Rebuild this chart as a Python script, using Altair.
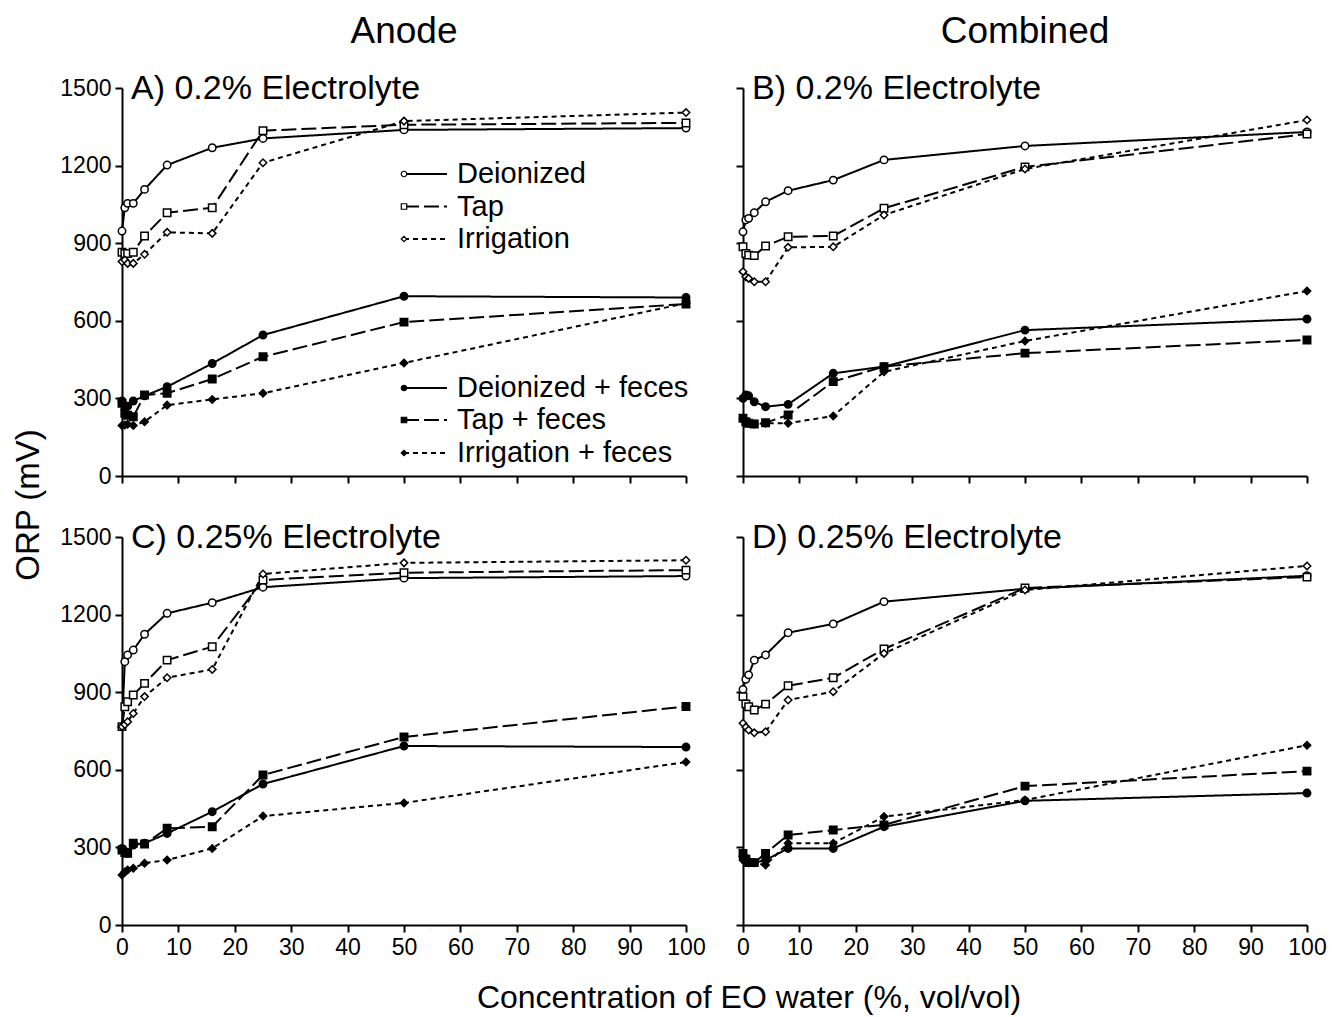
import altair as alt
import pandas as pd

FONT = "Liberation Sans"

x_vals = [0, 0.5, 1, 2, 4, 8, 16, 25, 50, 100]
series_names = ["Deionized", "Tap", "Irrigation",
                "Deionized + feces", "Tap + feces", "Irrigation + feces"]
x_ticks = [0, 10, 20, 30, 40, 50, 60, 70, 80, 90, 100]
y_ticks = [0, 300, 600, 900, 1200, 1500]

col_titles = ["Anode", "Combined"]
panel_labels = ["A) 0.2% Electrolyte", "B) 0.2% Electrolyte",
                "C) 0.25% Electrolyte", "D) 0.25% Electrolyte"]
x_title = "Concentration of EO water (%, vol/vol)"
y_title = "ORP (mV)"

# Panel A: Anode, 0.2% electrolyte
a_di = [947, 1037, 1054, 1054, 1108, 1202, 1269, 1305, 1338, 1345]
a_tap = [865, 860, 860, 865, 928, 1018, 1037, 1335, 1358, 1365]
a_irr = [829, 835, 822, 822, 857, 942, 938, 1211, 1372, 1405]
a_di_f = [290, 260, 270, 290, 310, 345, 435, 545, 695, 690]
a_tap_f = [281, 242, 235, 229, 313, 320, 375, 461, 595, 665]
a_irr_f = [195, 197, 200, 195, 210, 274, 296, 320, 437, 668]

# Panel B: Combined, 0.2% electrolyte
b_di = [944, 990, 996, 1018, 1060, 1103, 1144, 1222, 1276, 1330]
b_tap = [886, 860, 854, 852, 889, 925, 928, 1035, 1195, 1322]
b_irr = [790, 770, 764, 751, 751, 884, 886, 1009, 1187, 1376]
b_di_f = [300, 313, 310, 287, 268, 277, 397, 423, 564, 607]
b_tap_f = [223, 210, 204, 201, 206, 236, 365, 423, 475, 526]
b_irr_f = [219, 210, 204, 201, 204, 204, 232, 403, 522, 715]

# Panel C: Anode, 0.25% electrolyte
c_di = [767, 1018, 1044, 1063, 1124, 1205, 1246, 1306, 1341, 1349]
c_tap = [767, 844, 863, 889, 934, 1024, 1076, 1334, 1362, 1372]
c_irr = [767, 775, 786, 818, 883, 956, 988, 1357, 1400, 1410]
c_di_f = [296, 285, 277, 309, 316, 354, 438, 545, 692, 688]
c_tap_f = [290, 280, 277, 316, 313, 374, 380, 580, 727, 845]
c_irr_f = [193, 205, 213, 219, 239, 251, 296, 421, 472, 630]

# Panel D: Combined, 0.25% electrolyte
d_di = [911, 950, 967, 1024, 1044, 1130, 1164, 1250, 1300, 1350]
d_tap = [883, 855, 844, 831, 854, 925, 956, 1067, 1303, 1345]
d_irr = [780, 765, 754, 743, 747, 870, 902, 1050, 1295, 1388]
d_di_f = [264, 250, 245, 241, 251, 296, 296, 380, 480, 510]
d_tap_f = [277, 255, 241, 241, 277, 348, 367, 387, 537, 595]
d_irr_f = [251, 245, 241, 241, 232, 316, 316, 419, 483, 695]

panels = {
    "A": [a_di, a_tap, a_irr, a_di_f, a_tap_f, a_irr_f],
    "B": [b_di, b_tap, b_irr, b_di_f, b_tap_f, b_irr_f],
    "C": [c_di, c_tap, c_irr, c_di_f, c_tap_f, c_irr_f],
    "D": [d_di, d_tap, d_irr, d_di_f, d_tap_f, d_irr_f],
}

W, H = 564, 388
dash_range = [[1, 0], [15, 5], [5, 4], [1, 0], [15, 5], [5, 4]]
shape_range = ["circle", "square", "diamond", "circle", "square", "diamond"]
fill_range = ["white", "white", "white", "black", "black", "black"]

dash_scale = alt.Scale(domain=series_names, range=dash_range)
shape_scale = alt.Scale(domain=series_names, range=shape_range)
fill_scale = alt.Scale(domain=series_names, range=fill_range)


def panel_df(key):
    rows = []
    for name, vals in zip(series_names, panels[key]):
        for xv, yv in zip(x_vals, vals):
            rows.append({"series": name, "x": xv, "y": yv})
    return pd.DataFrame(rows)


def text_layer(txt, x, y, size, align="left", baseline="alphabetic", angle=0):
    return alt.Chart(pd.DataFrame({"t": [txt]})).mark_text(
        align=align, baseline=baseline, fontSize=size, font=FONT,
        color="black", angle=angle
    ).encode(x=alt.value(x), y=alt.value(y), text="t:N")


def make_panel(key, label, xlab, ylab, title=None, legend=False,
               ytitle=False, xtitle=False):
    df = panel_df(key)
    x_enc = alt.X("x:Q", scale=alt.Scale(domain=[0, 100], nice=False),
                  axis=alt.Axis(values=x_ticks, labels=xlab, title=None,
                                labelFlush=False))
    y_enc = alt.Y("y:Q", scale=alt.Scale(domain=[0, 1500], nice=False),
                  axis=alt.Axis(values=y_ticks, labels=ylab, title=None,
                                format="d", labelFlush=False))

    lines = alt.Chart(df).mark_line(strokeWidth=2, color="black").encode(
        x=x_enc, y=y_enc,
        strokeDash=alt.StrokeDash("series:N", scale=dash_scale, legend=None),
        detail="series:N",
    )
    points = alt.Chart(df).mark_point(
        filled=True, stroke="black", strokeWidth=1.5, size=55, opacity=1
    ).encode(
        x="x:Q", y="y:Q",
        shape=alt.Shape("series:N", scale=shape_scale, legend=None),
        fill=alt.Fill("series:N", scale=fill_scale, legend=None),
    )
    layers = [lines, points, text_layer(label, 9, 11, 34)]

    if title:
        layers.append(text_layer(title, W / 2, -45, 37, align="center"))
    if ytitle:
        layers.append(text_layer(y_title, -93, 417, 33, align="center",
                                 baseline="middle", angle=270))
    if xtitle:
        layers.append(text_layer(x_title, 627, H + 73, 32, align="center",
                                 baseline="middle"))

    if legend:
        # legend placement (in data units of panel A)
        leg_rows_px = [174, 206.5, 239, 388, 420, 453]
        leg_y = [(476 - p) * 1500 / 388 for p in leg_rows_px]
        ldf = pd.DataFrame({
            "series": series_names,
            "lx": [(405 - 123) / W * 100] * 6,
            "lx2": [(448 - 123) / W * 100] * 6,
            "tx": [(458 - 123) / W * 100] * 6,
            "ly": leg_y,
        })
        lrule = alt.Chart(ldf).mark_rule(strokeWidth=2, color="black").encode(
            x="lx:Q", x2="lx2:Q", y="ly:Q",
            strokeDash=alt.StrokeDash("series:N", scale=dash_scale, legend=None),
        )
        lpt = alt.Chart(ldf).mark_point(
            filled=True, stroke="black", strokeWidth=1.2, size=30, opacity=1
        ).encode(
            x="lx:Q", y="ly:Q",
            shape=alt.Shape("series:N", scale=shape_scale, legend=None),
            fill=alt.Fill("series:N", scale=fill_scale, legend=None),
        )
        ltxt = alt.Chart(ldf).mark_text(
            align="left", baseline="middle", fontSize=29, font=FONT,
            color="black"
        ).encode(x="tx:Q", y="ly:Q", text="series:N")
        layers += [lrule, lpt, ltxt]

    return alt.layer(*layers).properties(width=W, height=H)


pA = make_panel("A", panel_labels[0], False, True, title=col_titles[0],
                legend=True, ytitle=True)
pB = make_panel("B", panel_labels[1], False, False, title=col_titles[1])
pC = make_panel("C", panel_labels[2], True, True, xtitle=True)
pD = make_panel("D", panel_labels[3], True, False)

chart = alt.concat(
    pA, pB, pC, pD, columns=2,
    spacing={"row": 61, "column": 57}, bounds="flush"
).properties(
    padding={"left": 5, "top": 5, "right": 5, "bottom": 5}
).configure_view(stroke=None).configure_axis(
    labelFont=FONT, labelFontSize=23, labelColor="black",
    domainColor="black", domainWidth=2, tickColor="black", tickWidth=2,
    tickSize=7, grid=False, labelPadding=4,
)

chart.save("out.html", embed_options={"renderer": "svg", "actions": False})
